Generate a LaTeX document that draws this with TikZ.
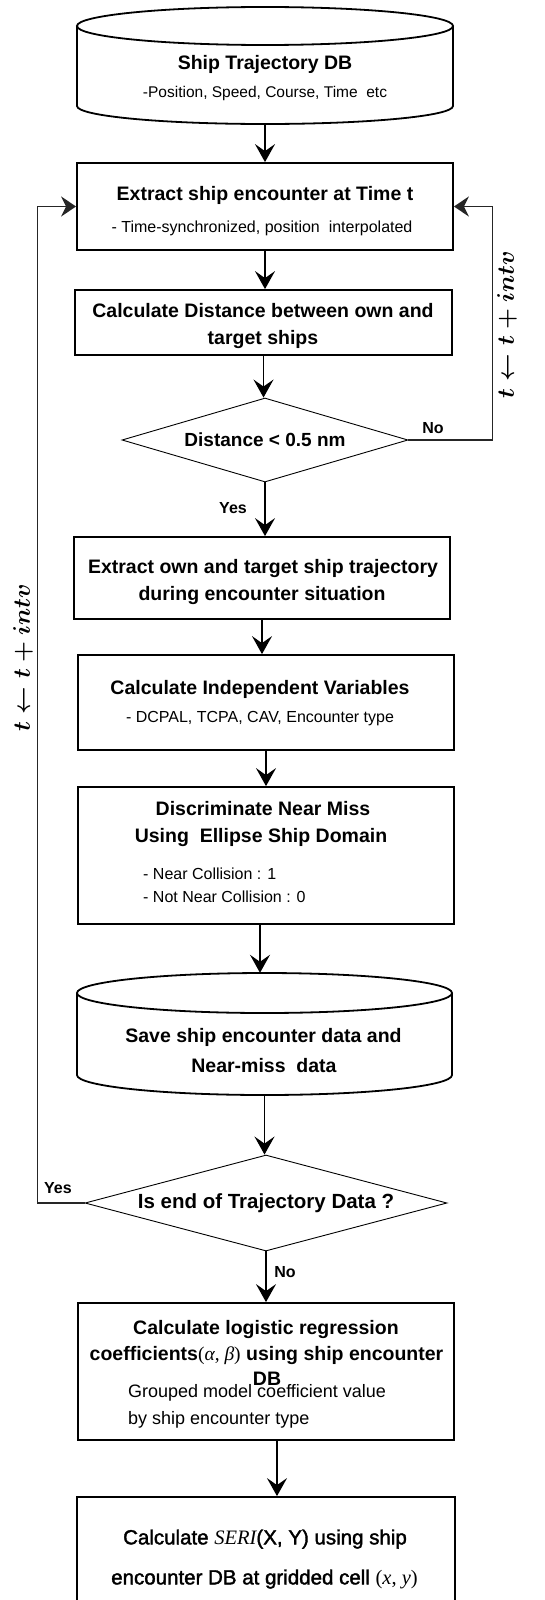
\documentclass[tikz,border=0pt]{standalone}
\usepackage{fix-cm}
\usepackage{amsmath}
\usepackage{fontspec}
\setmainfont{Liberation Sans}
\newfontfamily\cambria{Liberation Serif}
\newfontfamily\semib{Liberation Sans}[FakeBold=1.8]
\usetikzlibrary{shapes.geometric,arrows.meta}
\newcommand{\intvlabel}{$\boldsymbol{t\leftarrow t+intv}$}
\begin{document}
\begin{tikzpicture}[x=1pt,y=-1pt,
  box/.style={draw, line width=1.8pt, inner sep=0pt},
  dia/.style={draw, diamond, line width=0.9pt, inner sep=0pt},
  arr/.style={line width=1.6pt, -{Stealth[length=18pt,width=20pt,inset=7pt]}},
  back/.style={line width=1.6pt, draw=black!85, -{Stealth[length=15pt,width=20pt,inset=5pt]}},
  ttl/.style={inner sep=0pt, font=\fontsize{19.5}{23}\selectfont\bfseries, text height=14pt, text depth=0pt},
  sub/.style={inner sep=0pt, font=\fontsize{16}{19}\selectfont, text height=11.5pt, text depth=0pt},
  yn/.style={inner sep=0pt, font=\fontsize{16}{19}\selectfont\bfseries},
  sidelabel/.style={inner sep=0pt, rotate=90, font=\fontsize{24}{28}\selectfont},
  seritxt/.style={inner sep=0pt, font=\fontsize{20.5}{24}\selectfont\semib, text height=14.7pt, text depth=0pt},
  cyl/.style={line width=1.8pt}
]
\fill[white] (0,0) rectangle (544,1600);
\useasboundingbox (0,0) rectangle (544,1600);

% cylinder 1
\node[minimum width=376pt, minimum height=117pt, inner sep=0pt] (db1) at (265,65.5) {};
\draw[cyl] (265,26) ellipse [x radius=188, y radius=19];
\draw[cyl] (77,26) -- (77,106) arc[start angle=180, end angle=0, x radius=188, y radius=18] -- (453,26);
\node[ttl] (db1t) at (265,63) {Ship Trajectory DB};
\node[sub, font=\fontsize{15.5}{19}\selectfont] (db1s) at (265,92) {-Position, Speed, Course, Time\ \ etc};

% boxes
\node[box, minimum width=376pt, minimum height=87pt] (ext) at (265,206.5) {};
\node[ttl] (extt) at (265,193) {Extract ship encounter at Time t};
\node[sub] (exts) at (262,227) {- Time-synchronized, position\ \ interpolated};

\node[box, minimum width=377pt, minimum height=65pt] (dist) at (263.5,322.5) {};
\node[ttl] (dist1) at (263,310) {Calculate Distance between own and};
\node[ttl] (dist2) at (263,337) {target ships};

\node[dia, minimum width=286pt, minimum height=84pt, aspect=3.4,
      font=\fontsize{19}{23}\selectfont\bfseries] (d1) at (265,440) {Distance < 0.5 nm};

\node[box, minimum width=376pt, minimum height=82pt] (ext2) at (262,578) {};
\node[ttl] (ext21) at (263,566) {Extract own and target ship trajectory};
\node[ttl] (ext22) at (262,593) {during encounter situation};

\node[box, minimum width=376pt, minimum height=95pt] (indep) at (266,702.5) {};
\node[ttl] (indep1) at (260,687) {Calculate Independent Variables};
\node[sub] (indep2) at (260,717) {- DCPAL, TCPA, CAV, Encounter type};

\node[box, minimum width=376pt, minimum height=137pt] (disc) at (266,855.5) {};
\node[ttl] (disc1) at (263,808) {Discriminate Near Miss};
\node[ttl] (disc2) at (261,835) {Using\ \ Ellipse Ship Domain};
\node[sub, anchor=west] (disc3) at (143,874) {- Near Collision : 1};
\node[sub, anchor=west] (disc4) at (143,897) {- Not Near Collision : 0};

% cylinder 2
\node[minimum width=375pt, minimum height=122pt, inner sep=0pt] (db2) at (264.5,1034) {};
\draw[cyl] (264.5,993) ellipse [x radius=187.5, y radius=20];
\draw[cyl] (77,993) -- (77,1075) arc[start angle=180, end angle=0, x radius=187.5, y radius=20] -- (452,993);
\node[ttl] (db21) at (263.5,1035) {Save ship encounter data and};
\node[ttl] (db22) at (264,1065) {Near-miss\ \ data};

\node[dia, minimum width=362pt, minimum height=96pt, aspect=3.77,
      font=\fontsize{20.5}{24}\selectfont\bfseries] (d2) at (266,1203) {Is end of Trajectory Data ?};

\node[box, minimum width=376pt, minimum height=137pt] (coef) at (266,1371.5) {};
\node[ttl] (coef1) at (266,1327) {Calculate logistic regression};
\node[ttl] (coef2) at (266.5,1353) {coefficients{\cambria\mdseries(\textit{α}, \textit{β})} using ship encounter};
\node[ttl] (coef3) at (267,1378) {DB};
\node[sub, anchor=west, font=\fontsize{18}{21}\selectfont, text height=13pt] (coef4) at (128,1391) {Grouped model coefficient value};
\node[sub, anchor=west, font=\fontsize{18}{21}\selectfont, text height=13pt] (coef5) at (128,1418) {by ship encounter type};

\node[box, minimum width=378pt, minimum height=113pt] (seri) at (266,1553.5) {};
\node[seritxt] (seri1) at (265,1537) {Calculate {\cambria\itshape SERI}(X, Y) using ship};
\node[seritxt] (seri2) at (264.5,1577) {encounter DB at gridded cell {\cambria(\textit{x}, \textit{y})}};

% labels
\node[yn] (no1) at (433,428) {No};
\node[yn] (yes1) at (233,508) {Yes};
\node[yn] (yes2) at (58,1188) {Yes};
\node[yn] (no2) at (285,1272) {No};
\node[sidelabel] (lblR) at (507,325) {\intvlabel};
\node[sidelabel] (lblL) at (23,658) {\intvlabel};

% connectors
\draw[arr] (db1.south) -- (db1.south |- ext.north);
\draw[arr] (ext.south) -- (ext.south |- dist.north);
\draw[arr] (dist.south) -- (dist.south |- d1.north);
\draw[arr] (d1.south) -- (d1.south |- ext2.north);
\draw[arr] (ext2.south) -- (ext2.south |- indep.north);
\draw[arr] (indep.south) -- (indep.south |- disc.north);
\draw[arr] ([xshift=-6pt]disc.south) -- ([xshift=-6pt]disc.south |- db2.north);
\draw[arr] (db2.south) -- (db2.south |- d2.north);
\draw[arr] (d2.south) -- (d2.south |- coef.north);
\draw[arr] ([xshift=11pt]coef.south) -- ([xshift=11pt]coef.south |- seri.north);
\draw[back] (d1.east) -- ++(84,0) |- (ext.east);
\draw[back] (d2.west) -- ++(-47,0) |- (ext.west);
\end{tikzpicture}
\end{document}
